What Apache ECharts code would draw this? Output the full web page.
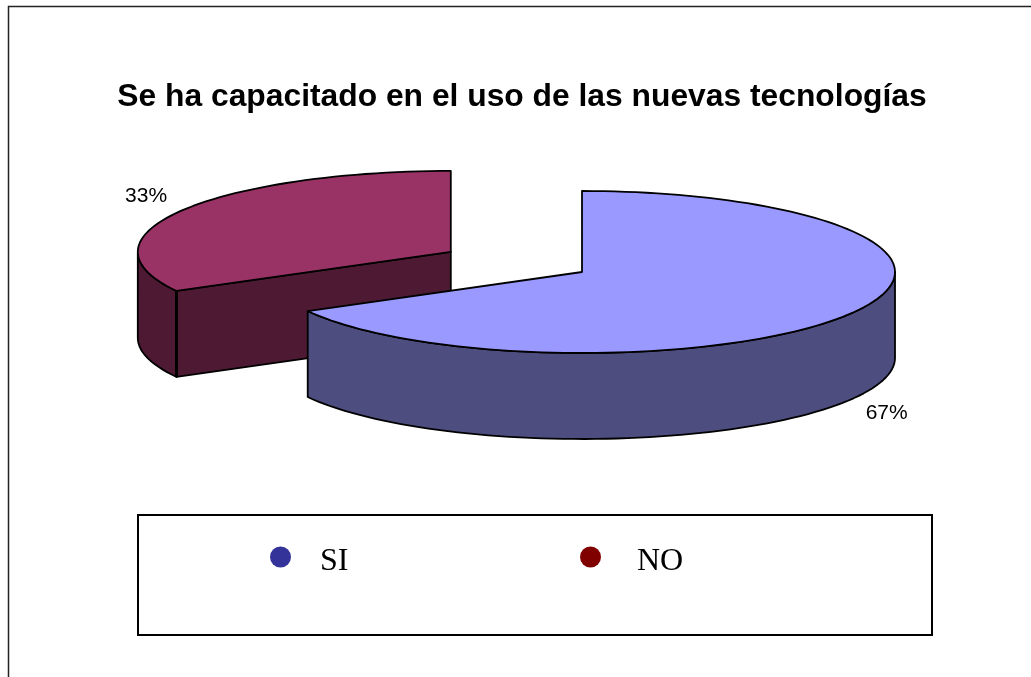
<!DOCTYPE html>
<html>
<head>
<meta charset="utf-8">
<style>html,body{margin:0;padding:0;background:#fff}#c{width:1031px;height:677px}</style>
<script src="https://cdn.jsdelivr.net/npm/echarts@6/dist/echarts.min.js"></script>
</head>
<body>
<div id="c"></div>
<script>
var titleText = 'Se ha capacitado en el uso de las nuevas tecnologías';
var categories = ['SI', 'NO'];
var values = [67, 33];
var explode = [0, 0.487];
var legendColors = ['#333399', '#800000'];
var topColors = ['#9999FF', '#993366'];
var sideColors = ['#4D4D80', '#4D1933'];

var CX = 582, CY = 272, RX = 313, RY = 81, DEPTH = 86;
var LABEL_RX = 41, LABEL_RY = 28;
var EDGE = '#000000';
var LEGEND_LEFT = [270, 580];
var LEGEND_TEXT_GAP = [24, 31];

var total = values.reduce(function (a, b) { return a + b; }, 0);
var slices = [];
values.forEach(function (v, i) {
  var start = i === 0 ? 0 : slices[i - 1].end;
  slices.push({ start: start, end: start + v / total * Math.PI * 2 });
});

function rim(cx, cy, t, dy) {
  return [cx + RX * Math.sin(t), cy - RY * Math.cos(t) + (dy || 0)];
}
function arc(cx, cy, a, b, dy) {
  var pts = [], n = Math.max(2, Math.ceil((b - a) / (Math.PI / 90)));
  for (var k = 0; k <= n; k++) pts.push(rim(cx, cy, a + (b - a) * k / n, dy));
  return pts;
}
function poly(points, fill, z2) {
  return {
    type: 'polygon', z2: z2, silent: true,
    shape: { points: points },
    style: { fill: fill, stroke: EDGE, lineWidth: 1.8, lineJoin: 'round' }
  };
}
function radialFace(children, cx, cy, t, fill, z) {
  var p = rim(cx, cy, t);
  children.push(poly([[cx, cy], p, [p[0], p[1] + DEPTH], [cx, cy + DEPTH]], fill, z));
  children.push({
    type: 'line', z2: z + 1, silent: true,
    shape: { x1: p[0], y1: p[1], x2: p[0], y2: p[1] + DEPTH },
    style: { stroke: EDGE, lineWidth: 3 }
  });
}

function renderSlice(i) {
  return function (params, api) {
    var s = slices[i], a = s.start, b = s.end, mid = (a + b) / 2;
    var ox = explode[i] * RX * Math.sin(mid), oy = -explode[i] * RY * Math.cos(mid);
    var cx = CX + ox, cy = CY + oy;
    var z = Math.round(cy);
    var children = [];
    if (Math.sin(a) < -1e-6) radialFace(children, cx, cy, a, sideColors[i], z);
    if (Math.sin(b) > 1e-6) radialFace(children, cx, cy, b, sideColors[i], z);
    var wa = Math.max(a, Math.PI / 2), wb = Math.min(b, Math.PI * 1.5);
    if (wb > wa) {
      var topArc = arc(cx, cy, wa, wb, 0);
      var botArc = arc(cx, cy, wa, wb, DEPTH).reverse();
      children.push(poly(topArc.concat(botArc), sideColors[i], z));
    }
    children.push(poly([[cx, cy]].concat(arc(cx, cy, a, b, 0)), topColors[i], z + 2));
    var lx = cx + (RX + LABEL_RX) * Math.sin(mid);
    var front = Math.cos(mid) < 0;
    var ly = cy - (RY + LABEL_RY) * Math.cos(mid) + (front ? DEPTH : 0);
    children.push({
      type: 'text', z2: z + 3, silent: true,
      style: {
        x: lx, y: ly,
        text: Math.round(values[i] / total * 100) + '%',
        fill: '#000', align: 'center', verticalAlign: 'middle',
        font: '21px "Liberation Sans", Arial, sans-serif'
      }
    });
    return { type: 'group', children: children };
  };
}

var chart = echarts.init(document.getElementById('c'), null, { renderer: 'canvas' });
chart.setOption({
  animation: false,
  backgroundColor: '#ffffff',
  title: {
    text: titleText,
    left: 517, top: 76, textAlign: 'center',
    textStyle: { fontFamily: '"Liberation Sans", Arial, sans-serif', fontWeight: 'bold', fontSize: 31.8, color: '#000' }
  },
  legend: categories.map(function (name, i) {
    return {
      left: LEGEND_LEFT[i], top: 546,
      data: [name],
      icon: 'circle',
      itemWidth: 21, itemHeight: 21,
      padding: 0,
      selectedMode: false,
      formatter: '{a|{name}}',
      textStyle: {
        rich: {
          a: {
            fontFamily: '"Liberation Serif", "Times New Roman", serif', fontSize: 32, color: '#000',
            padding: [10, 0, 0, LEGEND_TEXT_GAP[i]]
          }
        }
      }
    };
  }),
  graphic: [{
    type: 'polyline', silent: true,
    shape: { points: [[8.5, 677], [8.5, 6.5], [1031, 6.5]] },
    style: { stroke: '#222', lineWidth: 1.5, fill: null }
  }, {
    type: 'rect', silent: true, z: 0,
    shape: { x: 138, y: 515, width: 794, height: 120 },
    style: { stroke: '#000', lineWidth: 2, fill: '#fff' }
  }],
  series: categories.map(function (name, i) {
    return {
      type: 'custom', name: name,
      coordinateSystem: 'none',
      z: 2 - i,
      itemStyle: { color: legendColors[i] },
      data: [{ name: name, value: values[i] }],
      renderItem: renderSlice(i),
      silent: true
    };
  })
});
</script>
</body>
</html>
